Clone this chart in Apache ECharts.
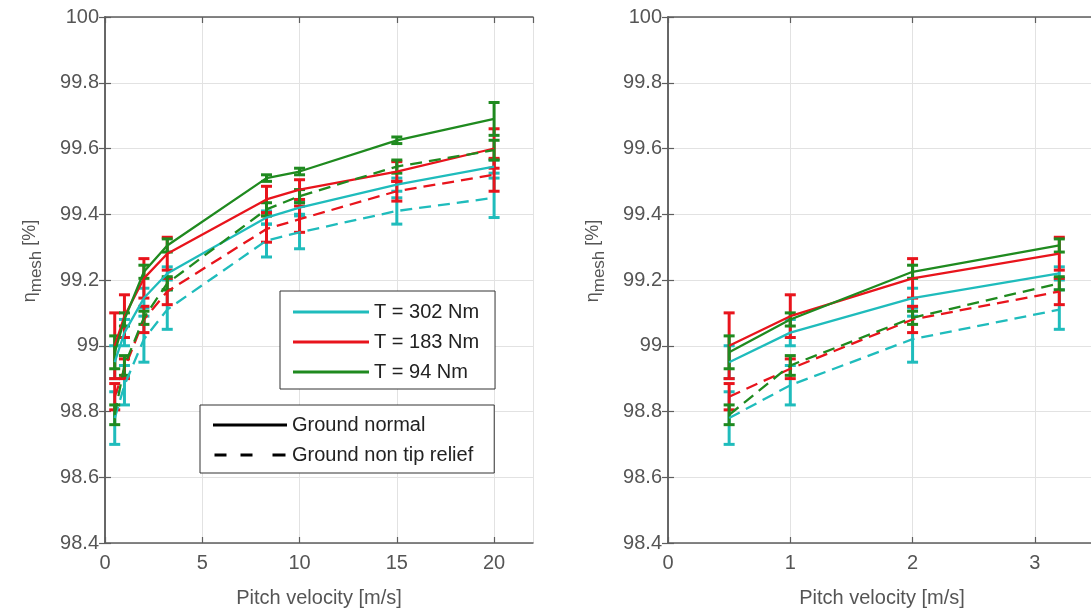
<!DOCTYPE html>
<html><head><meta charset="utf-8">
<script src="https://cdn.jsdelivr.net/npm/echarts@6/dist/echarts.min.js"></script>
<style>html,body{margin:0;padding:0;background:#fff;overflow:hidden}#chart{width:1100px;height:614px}</style>
</head><body><div id="chart"></div>
<script>
// ---- data ----
const velocity = [0.5, 1, 2, 3.2, 8.3, 10, 15, 20];
const torqueLabels = ['T = 302 Nm', 'T = 183 Nm', 'T = 94 Nm'];
const styleLabels = ['Ground normal', 'Ground non tip relief'];
// Ground normal (solid)
const normal302 = [98.95, 99.04, 99.145, 99.22, 99.39, 99.42, 99.49, 99.545];
const normal183 = [99.00, 99.09, 99.205, 99.28, 99.445, 99.475, 99.53, 99.60];
const normal94  = [98.98, 99.08, 99.225, 99.305, 99.51, 99.53, 99.625, 99.69];
// Ground non tip relief (dashed)
const ntr302 = [98.78, 98.88, 99.02, 99.11, 99.32, 99.345, 99.41, 99.45];
const ntr183 = [98.845, 98.93, 99.08, 99.165, 99.355, 99.385, 99.47, 99.52];
const ntr94  = [98.79, 98.94, 99.085, 99.19, 99.415, 99.455, 99.545, 99.595];
// error half-widths
const errNormal302 = [0.05, 0.04, 0.03, 0.02, 0.02, 0.02, 0.02, 0.02];
const errNormal183 = [0.1, 0.065, 0.06, 0.05, 0.04, 0.03, 0.03, 0.06];
const errNormal94  = [0.05, 0.02, 0.02, 0.02, 0.01, 0.01, 0.01, 0.05];
const errNtr302 = [0.08, 0.06, 0.07, 0.06, 0.05, 0.05, 0.04, 0.06];
const errNtr183 = [0.04, 0.03, 0.04, 0.04, 0.04, 0.04, 0.03, 0.05];
const errNtr94  = [0.03, 0.03, 0.02, 0.02, 0.02, 0.02, 0.02, 0.03];
// axes
const yMin = 98.4, yMax = 100, yStep = 0.2;
const xLeftMax = 22, xLeftStep = 5;
const xRightMax = 3.5, xRightStep = 1;
const xName = 'Pitch velocity [m/s]';

// ---- styling ----
const FONT = "'Liberation Sans', Arial, sans-serif";
const C = { c302: '#1fbcbc', c183: '#e8141c', c94: '#1f8a1f' };
const axisColor = '#5e5e5e';
const gridColor = '#e2e2e2';
const dashPattern = [12, 7];

const groups = [
  { name: torqueLabels[0], y: normal302, e: errNormal302, color: C.c302, dash: false },
  { name: torqueLabels[1], y: normal183, e: errNormal183, color: C.c183, dash: false },
  { name: torqueLabels[2], y: normal94,  e: errNormal94,  color: C.c94,  dash: false },
  { name: torqueLabels[0] + ' ntr', y: ntr302, e: errNtr302, color: C.c302, dash: true },
  { name: torqueLabels[1] + ' ntr', y: ntr183, e: errNtr183, color: C.c183, dash: true },
  { name: torqueLabels[2] + ' ntr', y: ntr94,  e: errNtr94,  color: C.c94,  dash: true }
];

function grids(gi, xMax, xStep) {
  const tickStyle = { show: true, inside: true, length: 6, lineStyle: { color: axisColor, width: 1.2 } };
  const lineStyle = { show: true, lineStyle: { color: axisColor, width: 1.5 } };
  const xa = [
    { type: 'value', gridIndex: gi, min: 0, max: xMax, interval: xStep, position: 'bottom',
      axisLine: lineStyle, axisTick: tickStyle,
      axisLabel: { color: '#555', fontSize: 20, fontFamily: FONT, margin: 10, showMaxLabel: false },
      splitLine: { show: true, lineStyle: { color: gridColor, width: 1 } },
      name: xName, nameLocation: 'middle', nameGap: 45,
      nameTextStyle: { color: '#555', fontSize: 20, fontFamily: FONT } },
    { type: 'value', gridIndex: gi, min: 0, max: xMax, interval: xStep, position: 'top',
      axisLine: lineStyle, axisTick: tickStyle, axisLabel: { show: false }, splitLine: { show: false } }
  ];
  const ya = [
    { type: 'value', gridIndex: gi, min: yMin, max: yMax, interval: yStep, position: 'left',
      axisLine: lineStyle, axisTick: tickStyle,
      axisLabel: { color: '#555', fontSize: 20, fontFamily: FONT, margin: 6,
        formatter: v => String(parseFloat(v.toFixed(1))) },
      splitLine: { show: true, lineStyle: { color: gridColor, width: 1 } },
      name: '{eta|η}{sub|mesh} {pct|[%]}', nameLocation: 'middle', nameGap: 60, nameRotate: 90,
      nameTextStyle: { color: '#555', fontFamily: FONT, fontSize: 18, padding: [0, 0, 0, 38],
        rich: {
          eta: { fontSize: 18, fontFamily: FONT, color: '#555', lineHeight: 22, verticalAlign: 'top' },
          sub: { fontSize: 17, fontFamily: FONT, color: '#555', lineHeight: 16, verticalAlign: 'bottom' },
          pct: { fontSize: 18, fontFamily: FONT, color: '#555', lineHeight: 24, verticalAlign: 'top' }
        } } },
    { type: 'value', gridIndex: gi, min: yMin, max: yMax, interval: yStep, position: 'right',
      axisLine: lineStyle, axisTick: tickStyle, axisLabel: { show: false }, splitLine: { show: false } }
  ];
  return { xa, ya };
}

const g0 = grids(0, xLeftMax, xLeftStep);
const g1 = grids(1, xRightMax, xRightStep);

function errorSeries(name, pts, color, gi) {
  return {
    type: 'custom', name: name + ' err', xAxisIndex: gi * 2, yAxisIndex: gi * 2,
    data: pts, encode: { x: 0, y: 1 }, silent: true, clip: false, z: 3,
    renderItem: (params, api) => {
      const x = api.value(0), y = api.value(1), e = api.value(2);
      const t = api.coord([x, y + e]), b = api.coord([x, y - e]);
      const hw = 5.5, st = { stroke: color, lineWidth: 3, fill: null };
      return { type: 'group', children: [
        { type: 'line', shape: { x1: t[0], y1: t[1], x2: b[0], y2: b[1] }, style: st },
        { type: 'line', shape: { x1: t[0] - hw, y1: t[1], x2: t[0] + hw, y2: t[1] }, style: st },
        { type: 'line', shape: { x1: b[0] - hw, y1: b[1], x2: b[0] + hw, y2: b[1] }, style: st }
      ] };
    }
  };
}

const series = [];
[[0, xLeftMax], [1, xRightMax]].forEach(([gi, xMax]) => {
  groups.forEach(g => {
    const pts = velocity.map((x, i) => [x, g.y[i], g.e[i]]).filter(p => p[0] <= xMax);
    series.push({
      type: 'line', name: g.name, xAxisIndex: gi * 2, yAxisIndex: gi * 2,
      data: pts.map(p => [p[0], p[1]]), symbol: 'none', color: g.color, z: 3,
      lineStyle: { color: g.color, width: 2.3, type: g.dash ? dashPattern : 'solid' },
      silent: true
    });
    series.push(errorSeries(g.name + gi, pts, g.color, gi));
  });
});
// legend-only series for line style key
series.push({ type: 'line', name: styleLabels[0], data: [], xAxisIndex: 0, yAxisIndex: 0, color: '#000',
  lineStyle: { color: '#000', width: 3 } });
series.push({ type: 'line', name: styleLabels[1], data: [], xAxisIndex: 0, yAxisIndex: 0, color: '#000',
  lineStyle: { color: '#000', width: 3, type: 'dashed' } });

const legendText = { fontSize: 20, color: '#222', fontFamily: FONT, lineHeight: 24 };
const option = {
  animation: false,
  backgroundColor: '#fff',
  grid: [
    { left: 105, top: 17, width: 428, height: 526 },
    { left: 668, top: 17, width: 428, height: 526 }
  ],
  xAxis: [...g0.xa, ...g1.xa],
  yAxis: [...g0.ya, ...g1.ya],
  legend: [
    { data: torqueLabels, left: 280, top: 291, orient: 'vertical', icon: 'rect',
      itemWidth: 76, itemHeight: 3, itemGap: 6, padding: [9, 16, 5, 13],
      borderColor: '#333', borderWidth: 1, backgroundColor: '#fff', selectedMode: false,
      textStyle: legendText, z: 10 },
    { data: [ { name: styleLabels[0], icon: 'rect' },
              { name: styleLabels[1], icon: 'path://M0,0h12v3h-12zM26,0h12v3h-12zM58,0h13v3h-13z' } ],
      left: 200, top: 405, orient: 'vertical',
      itemWidth: 74, itemHeight: 3, itemGap: 6, padding: [8, 21, 6, 13],
      borderColor: '#333', borderWidth: 1, backgroundColor: '#fff', selectedMode: false,
      textStyle: legendText, z: 10 }
  ],
  series
};
const chart = echarts.init(document.getElementById('chart'), null, { renderer: 'canvas' });
chart.setOption(option);
</script></body></html>
